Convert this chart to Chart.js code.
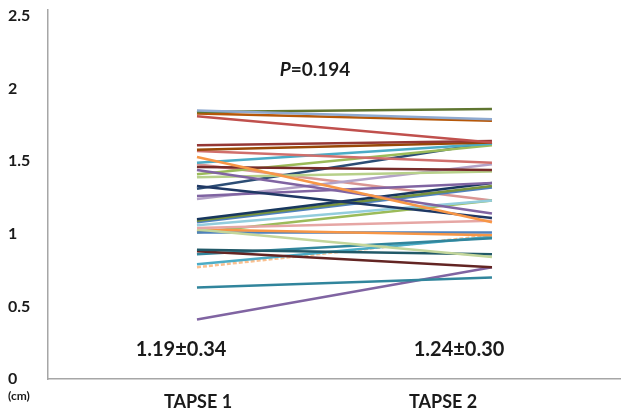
<!DOCTYPE html>
<html>
<head>
<meta charset="utf-8">
<script src="https://cdn.jsdelivr.net/npm/chart.js@4/dist/chart.umd.min.js"></script>
<style>
html,body{margin:0;padding:0;background:#fff;}
#c{display:block;}
</style>
</head>
<body>
<canvas id="c" width="630" height="416"></canvas>
<script>
// ---- data ----
const categories = ['TAPSE 1', 'TAPSE 2'];
const tapse1 = [1.85,1.84,1.83,1.81,1.61,1.58,1.57,1.53,1.49,1.46,1.44,1.41,1.39,1.33,1.31,1.26,1.24,1.10,1.09,1.08,1.06,1.04,1.03,1.03,1.01,1.01,0.89,0.88,0.86,0.79,0.77,0.63,0.41,1.48];
const tapse2 = [1.79,1.86,1.78,1.63,1.64,1.63,1.49,1.08,1.62,1.44,1.14,1.61,1.43,1.11,1.63,1.35,1.48,1.35,1.33,1.32,1.23,1.09,0.84,0.99,1.01,1.23,0.86,0.77,0.97,0.98,0.99,0.70,0.77,1.23];
const yTickLabels = ['0','0.5','1','1.5','2','2.5'];
const yTickValues = [0,0.5,1,1.5,2,2.5];
const pValue = '0.194';
const summary = ['1.19\u00B10.34', '1.24\u00B10.30'];
const unitLabel = '(cm)';

// ---- styles ----
const lineColors = ['#8EA9CF','#5F7530','#B65708','#C0504D','#953735','#984807','#D06F6C','#F79646','#4BACC6','#772C2A','#8064A2','#9BBB59','#B7D08A','#1F3864','#2C4D75','#8064A2','#B3A2C7','#17375E','#77933C','#4F81BD','#93CDDD','#E6A6A4','#C3D69B','#F79646','#4F81BD','#9BBB59','#215968','#632523','#31859C','#4BACC6','#FAC090','#31859C','#8064A2','#D99694'];
const dashedIdx = [30];

const datasets = tapse1.map((v, i) => ({
  label: 'P' + (i + 1),
  data: [{x: 1, y: v}, {x: 2, y: tapse2[i]}],
  borderColor: lineColors[i % lineColors.length],
  backgroundColor: lineColors[i % lineColors.length],
  borderWidth: 2.5,
  borderDash: dashedIdx.includes(i) ? [4, 2] : [],
  pointRadius: 0,
  fill: false,
  tension: 0
}));

const textPlugin = {
  id: 'texts',
  afterDraw(chart) {
    const ctx = chart.ctx;
    const ys = chart.scales.y, xl = chart.scales.x2;
    ctx.save();
    ctx.fillStyle = '#1a1a1a';
    ctx.textBaseline = 'middle';
    // P value
    const f1 = 'italic bold 19px Lato';
    const f2 = 'bold 19px Lato';
    ctx.font = f1; const wP = ctx.measureText('P').width;
    ctx.font = f2; const wV = ctx.measureText('=' + pValue).width;
    const cx = 315, cy = ys.getPixelForValue(2.13);
    let sx = cx - (wP + wV) / 2;
    ctx.textAlign = 'left';
    ctx.font = f1; ctx.fillText('P', sx, cy);
    ctx.font = f2; ctx.fillText('=' + pValue, sx + wP, cy);
    // summaries
    ctx.font = 'bold 20px Lato';
    ctx.textAlign = 'center';
    const sy = ys.getPixelForValue(0.2);
    ctx.fillText(summary[0], xl.getPixelForValue(1) - 17, sy);
    ctx.fillText(summary[1], xl.getPixelForValue(2) + 16, sy);
    // unit
    ctx.font = 'bold 12px Lato';
    ctx.textAlign = 'left';
    ctx.fillText(unitLabel, 8, 396);
    ctx.restore();
  }
};

new Chart(document.getElementById('c'), {
  type: 'line',
  data: { datasets },
  plugins: [textPlugin],
  options: {
    responsive: false,
    devicePixelRatio: 1,
    animation: false,
    layout: { padding: { left: 8, top: 2, right: 10, bottom: 0 } },
    plugins: { legend: { display: false }, tooltip: { enabled: false } },
    scales: {
      x: {
        type: 'linear', display: false, min: 0.495, max: 2.434
      },
      x2: {
        type: 'linear', position: 'bottom', min: 0.388, max: 2.722,
        grid: { display: false, drawTicks: false },
        border: { display: true, color: '#A6A6A6', width: 1.5 },
        afterBuildTicks: s => { s.ticks = [{value: 1}, {value: 2}]; },
        afterFit: s => { s.height = 37; },
        ticks: {
          padding: 12, color: '#1a1a1a',
          font: { family: 'Lato', weight: 'bold', size: 18 },
          callback: v => categories[Math.round(v) - 1] || ''
        }
      },
      y: {
        type: 'linear', min: 0, max: 2.545,
        grid: { display: false, drawTicks: false },
        border: { display: true, color: '#A6A6A6', width: 1.5 },
        afterBuildTicks: s => { s.ticks = yTickValues.map(v => ({value: v})); },
        afterFit: s => { s.width = 40; },
        ticks: {
          crossAlign: 'far', padding: 0, color: '#1a1a1a',
          font: { family: 'Lato', weight: 'bold', size: 16 },
          callback: (v) => yTickLabels[yTickValues.indexOf(v)]
        }
      }
    }
  }
});
</script>
</body>
</html>
